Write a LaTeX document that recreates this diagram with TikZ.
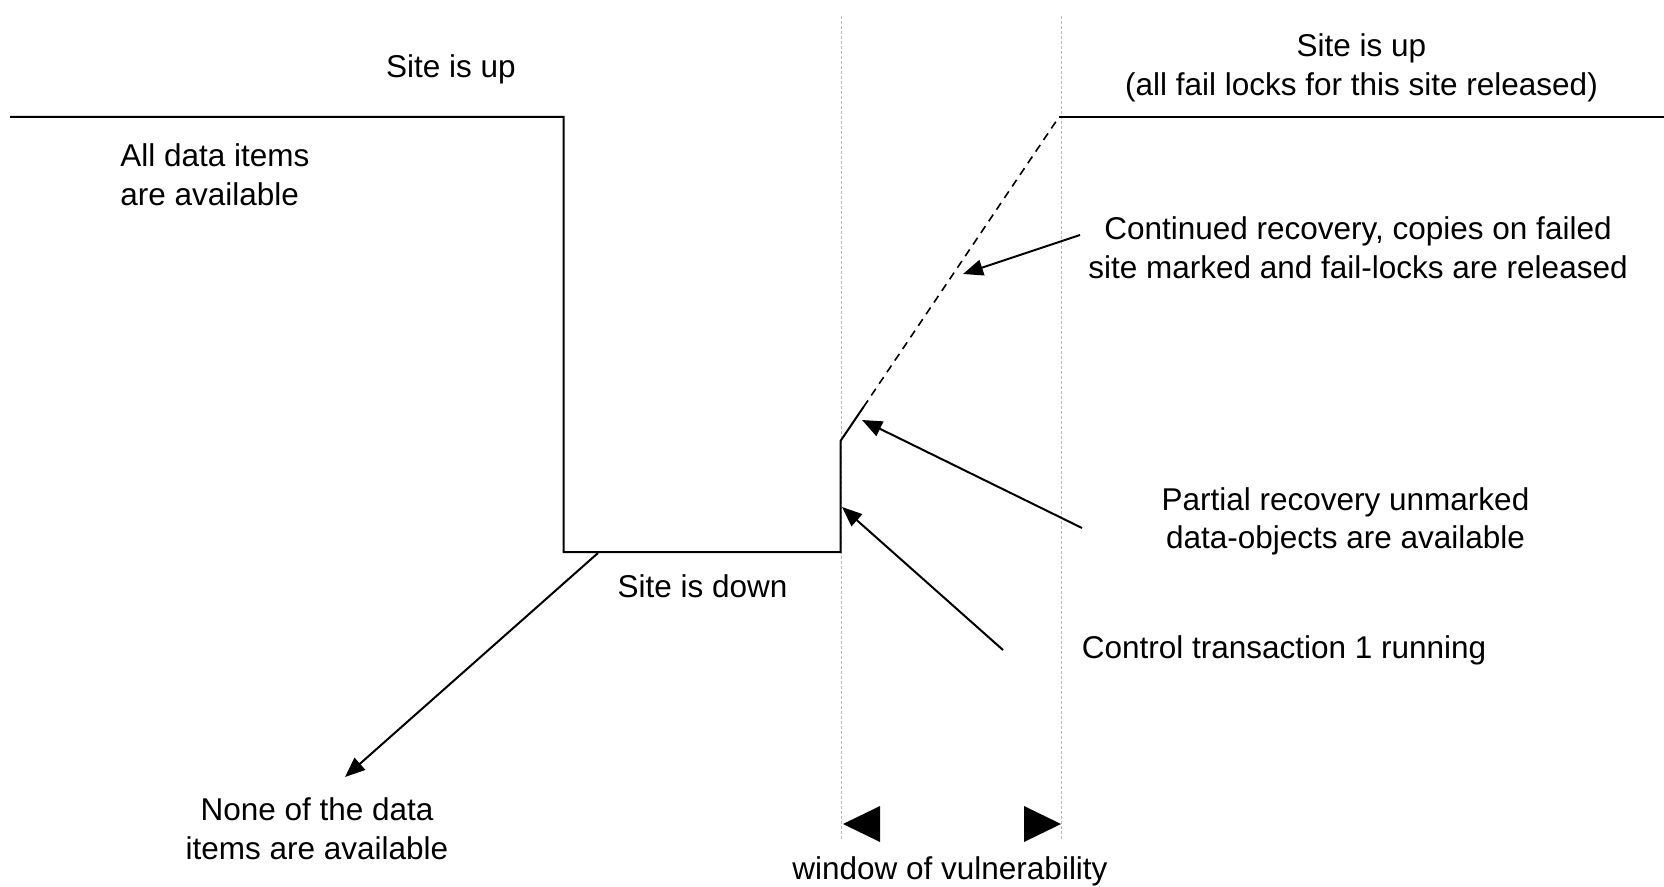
\documentclass[tikz,border=0pt]{standalone}
\usepackage{fontspec}
\setmainfont{Liberation Sans}
\usetikzlibrary{arrows.meta}

\begin{document}
\begin{tikzpicture}[
    x=0.5pt, y=-0.5pt,
    lbl/.style={inner sep=0pt, align=center, font=\fontsize{15.75}{19.25}\selectfont},
    state/.style={line width=1pt},
    recov/.style={line width=0.8pt, dash pattern=on 4pt off 3pt},
    arrow/.style={-{Triangle[length=10pt,width=8pt]}, line width=1pt},
    guide/.style={gray!55, line width=0.5pt, dash pattern=on 1.5pt off 1pt},
    wintip/.style={fill=black}
]
\useasboundingbox (0,0) rectangle (1664,887);

\coordinate (up1) at (10,117);
\coordinate (fail) at (563.5,117);
\coordinate (down1) at (563.5,552);
\coordinate (down2) at (840.5,552);
\coordinate (part) at (840.5,441);
\coordinate (cont) at (863.5,407);
\coordinate (rec) at (1059,117);
\coordinate (up2) at (1664,117);

\draw[guide] (841,16) coordinate (g1top) -- (841,839) coordinate (g1bot);
\draw[guide] (1061,16) coordinate (g2top) -- (1061,839) coordinate (g2bot);

\draw[state] (up1) -- (fail) -- (down1) -- (down2) -- (part) -- (cont);
\draw[recov] (cont) -- (rec);
\draw[state] (rec) -- (up2);

\node[lbl] (upleft) at (451,69) {Site is up};
\node[lbl] (upright) at (1361.5,68) {Site is up\\(all fail locks for this site released)};
\node[lbl, align=left, anchor=west] (alldata) at (120,174.5) {All data items\\are available};
\node[lbl] (contrec) at (1358,247.5) {Continued recovery, copies on failed\\site marked and fail-locks are released};
\node[lbl] (partrec) at (1345.5,521.5) {Partial recovery unmarked\\data-objects are available};
\node[lbl] (sitedown) at (702.5,586) {Site is down};
\node[lbl] (ctrl) at (1284,650.5) {Control transaction 1 running};
\node[lbl] (nodata) at (317,828.5) {None of the data\\items are available};
\node[lbl, anchor=base] (window) at (950,879) {window of vulnerability};

\coordinate (t1) at (598,553);
\coordinate (h1) at (345,777);
\coordinate (t2) at (1003,650);
\coordinate (h2) at (842,507);
\coordinate (t3) at (1082,528);
\coordinate (h3) at (862,420);
\coordinate (t4) at (1080,235);
\coordinate (h4) at (963,274);

\draw[arrow] (t1) -- (h1);
\draw[arrow] (t2) -- (h2);
\draw[arrow] (t3) -- (h3);
\draw[arrow] (t4) -- (h4);

\fill[wintip] (843,824) -- (880,806) -- (880,842) -- cycle;
\fill[wintip] (1061,824) -- (1024,806) -- (1024,842) -- cycle;
\end{tikzpicture}
\end{document}
